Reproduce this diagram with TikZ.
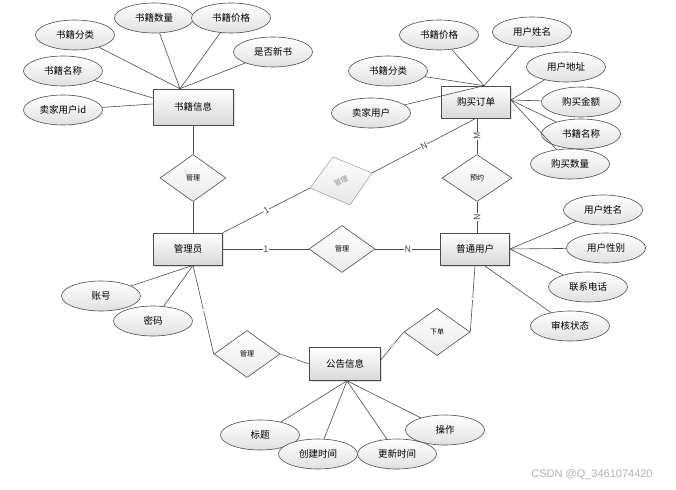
\documentclass[tikz,border=0pt]{standalone}
\usepackage{fontspec}
\newfontfamily\cjk{Noto Sans CJK SC}
\newfontfamily\wmfont{Liberation Sans}
\usetikzlibrary{calc,positioning,shapes.geometric,shadows}

\begin{document}
\begin{tikzpicture}[x=1pt,y=-1pt,line width=.6pt]
  \useasboundingbox (0,0) rectangle (676,489);
  \tikzstyle{entity}=[rectangle, draw=black!70, top color=white, bottom color=black!15,
    drop shadow={shadow xshift=1.5pt,shadow yshift=-1.5pt,opacity=.25},
    minimum width=69pt, minimum height=32pt, font=\cjk\fontsize{9.5}{11}\selectfont]
  \tikzstyle{attr}=[ellipse, draw=black!70, top color=white, bottom color=black!12,
    minimum width=79pt, minimum height=30pt, inner sep=0pt, font=\cjk\fontsize{9.5}{11}\selectfont]
  \tikzstyle{rel}=[diamond, draw=black!70, top color=white, bottom color=black!8,
    minimum width=66pt, minimum height=47pt, inner sep=0pt, font=\cjk\fontsize{7}{8}\selectfont]
  \tikzstyle{card}=[fill=white, inner sep=.5pt, font=\cjk\fontsize{9}{10}\selectfont]
  \tikzstyle{tiny}=[sloped, fill=white, inner sep=.3pt, text=black!50, font=\cjk\fontsize{4}{5}\selectfont]

  % entities
  \node[entity, minimum width=80pt, minimum height=36pt] (eBook) at (193,107) {书籍信息};
  \node[entity] (eOrder) at (476,102) {购买订单};
  \node[entity] (eAdmin) at (188,249) {管理员};
  \node[entity] (eUser) at (475,249) {普通用户};
  \node[entity, minimum width=71pt, minimum height=33pt] (eNotice) at (345,364) {公告信息};

  % relations
  \node[rel] (rBook) at (193,178) {管理};
  \node[rel] (rAU) at (342,249) {管理};
  \node[rel, minimum width=70pt] (rOrd) at (477,178) {预约};
  \node[rel] (rNotice) at (247,354) {管理};
  \node[rel] (rPlace) at (437,332) {下单};

  % the faded one
  \coordinate (mg) at (341,181);
  \coordinate (mgL) at ($(mg)+(-31,7)$);
  \coordinate (mgT) at ($(mg)+(-8,-24)$);
  \coordinate (mgR) at ($(mg)+(31,-8)$);
  \coordinate (mgB) at ($(mg)+(9,24)$);
  \draw[black!35, top color=white, bottom color=black!10] (mgL) -- (mgT) -- (mgR) -- (mgB) -- cycle;
  \node[rotate=25, text=black!45, font=\cjk\fontsize{7}{8}\selectfont] (tMg) at (mg) {管理};

  % meeting points of the attribute lines
  \coordinate (pBookT) at ($(eBook.north)+(-13,0)$);
  \coordinate (pBookL1) at ($(eBook.west)+(0,-9)$);
  \coordinate (pBookL2) at ($(eBook.west)+(0,-3)$);
  \coordinate (pOrderT) at ($(eOrder.north)+(8,0)$);
  \coordinate (pOrderR) at ($(eOrder.east)+(0,-2)$);
  \coordinate (pUserR) at (eUser.east);
  \coordinate (pUserB) at ($(eUser.south)+(9,0)$);
  \coordinate (pAdminB) at ($(eAdmin.south)+(5,0)$);
  \coordinate (pNoticeB) at ($(eNotice.south)+(2,0)$);

  \foreach \n/\x/\y/\t/\p in {
    aB1/75/35/书籍分类/pBookT, aB2/154/18/书籍数量/pBookT, aB3/231/18/书籍价格/pBookT,
    aB4/273/52/是否新书/pBookT, aB5/63/71/书籍名称/pBookL1, aB6/63/110/卖家用户id/pBookL2,
    aO1/439/35/书籍价格/pOrderT, aO2/532/32/用户姓名/pOrderT, aO3/388/71/书籍分类/pOrderT,
    aO4/371/113/卖家用户/pOrderT, aO5/566/67/用户地址/pOrderR, aO6/581/102/购买金额/pOrderR,
    aO7/581/134/书籍名称/pOrderR, aO8/570/164/购买数量/pOrderR,
    aU1/603/210/用户姓名/pUserR, aU2/606/248/用户性别/pUserR, aU3/588/287/联系电话/pUserR,
    aU4/570/326/审核状态/pUserB,
    aA1/101/296/账号/pAdminB, aA2/153/321/密码/pAdminB,
    aN1/260/435/标题/pNoticeB, aN2/318/454/创建时间/pNoticeB, aN3/397/454/更新时间/pNoticeB,
    aN4/445/430/操作/pNoticeB}{
    \node[attr] (\n) at (\x,\y) {\t};
    \draw[black!70] (\n) -- (\p);
  }

  % relation lines
  \draw[black!70] (eBook) -- (rBook);
  \draw[black!70] (rBook.south) -- (rBook.south |- eAdmin.north);
  \draw[black!70] (eAdmin) -- node[card] (c1) {1} (rAU);
  \draw[black!70] (rAU) -- node[card] (c2) {N} (eUser);
  \draw[black!70] (eAdmin.north east) -- node[card, sloped] (c3) {1} (mgL);
  \draw[black!70] (mgR) -- node[card, sloped] (c4) {N} (eOrder.south);
  \draw[black!70] (rOrd.north) -- node[card, rotate=90] (c5) {M} (rOrd.north |- eOrder.south);
  \draw[black!70] (rOrd.south) -- node[card, rotate=90] (c6) {N} (rOrd.south |- eUser.north);
  \draw[black!70] (pAdminB) -- node[tiny] (c7) {1} (rNotice.west);
  \draw[black!70] (rNotice.east) -- node[tiny] (c8) {N} (eNotice.west);
  \draw[black!70] (rPlace.west) -- node[tiny] (c9) {N} ($(eNotice.east)+(0,-4)$);
  \draw[black!70] (rPlace.east) -- node[tiny] (c10) {1} (eUser.south);

  \node[text=black!30, font=\wmfont\fontsize{11}{12}\selectfont] (wm) at (592,475) {CSDN @Q\_3461074420};
\end{tikzpicture}
\end{document}
